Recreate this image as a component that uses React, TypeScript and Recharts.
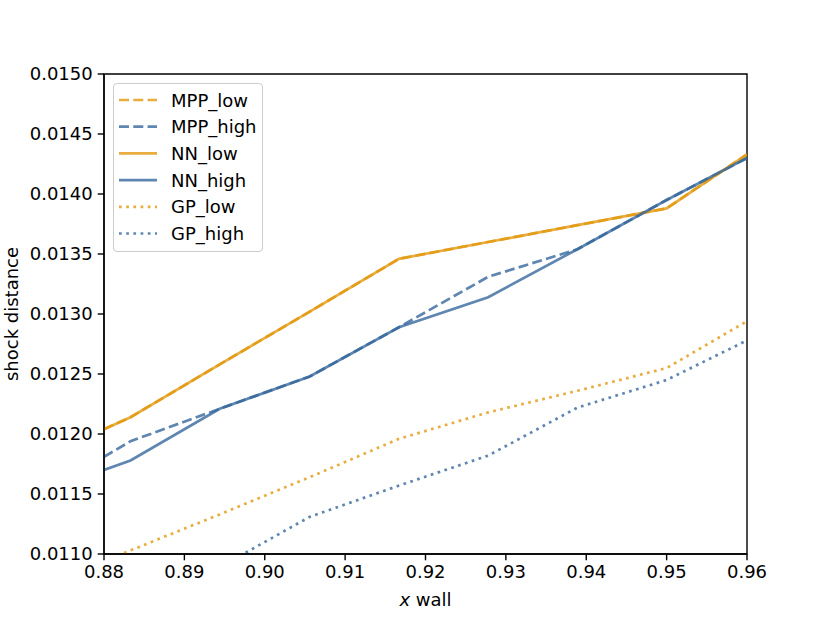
import React from 'react';
import { LineChart, Line, XAxis, YAxis, Legend, ReferenceArea } from 'recharts';

const xWall = [0.88, 0.8833, 0.8944, 0.9056, 0.9167, 0.9278, 0.9389, 0.95, 0.96];
const mppLow = [0.01204, 0.01214, 0.01258, 0.01302, 0.01346, 0.0136, 0.01374, 0.01388, 0.01433];
const mppHigh = [0.01181, 0.01194, 0.01221, 0.01248, 0.01289, 0.01331, 0.01354, 0.01395, 0.0143];
const nnLow = [0.01204, 0.01214, 0.01258, 0.01302, 0.01346, 0.0136, 0.01374, 0.01388, 0.01433];
const nnHigh = [0.0117, 0.01178, 0.01221, 0.01248, 0.01289, 0.01314, 0.01354, 0.01395, 0.0143];
const gpLow = [0.01094, 0.01103, 0.01133, 0.01164, 0.01196, 0.01218, 0.01236, 0.01255, 0.01294];
const gpHigh = [0.0106, 0.01062, 0.01089, 0.01131, 0.01157, 0.01182, 0.01222, 0.01245, 0.01278];

const xTicks = [0.88, 0.89, 0.9, 0.91, 0.92, 0.93, 0.94, 0.95, 0.96];
const yTicks = [0.011, 0.0115, 0.012, 0.0125, 0.013, 0.0135, 0.014, 0.0145, 0.015];

const ORANGE = '#e2980e';
const BLUE = '#36689c';
const FONT = 'DejaVu Sans';

const data = xWall.map((x, i) => ({
  x,
  MPP_low: mppLow[i],
  MPP_high: mppHigh[i],
  NN_low: nnLow[i],
  NN_high: nnHigh[i],
  GP_low: gpLow[i],
  GP_high: gpHigh[i],
}));

const series = [
  { key: 'MPP_low', color: ORANGE, dash: '10 4.3' },
  { key: 'MPP_high', color: BLUE, dash: '10 4.3' },
  { key: 'NN_low', color: ORANGE, dash: undefined },
  { key: 'NN_high', color: BLUE, dash: undefined },
  { key: 'GP_low', color: ORANGE, dash: '2.7 4.5' },
  { key: 'GP_high', color: BLUE, dash: '2.7 4.5' },
];

function LegendBox() {
  return (
    <div
      style={{
        width: 150,
        height: 169,
        boxSizing: 'border-box',
        border: '1px solid #cccccc',
        borderRadius: 4,
        background: 'rgba(255,255,255,0.8)',
      }}
    >
      <svg width={148} height={167}>
        {series.map((s, i) => {
          const y = 16 + i * 26.7;
          return (
            <g key={s.key}>
              <line
                x1={5}
                x2={43}
                y1={y}
                y2={y}
                stroke={s.color}
                strokeOpacity={0.8}
                strokeWidth={2.7}
                strokeDasharray={s.dash}
              />
              <text x={57} y={y + 6.5} fontSize={18} fontFamily={FONT} fill="#000">
                {s.key}
              </text>
            </g>
          );
        })}
      </svg>
    </div>
  );
}

export default function App() {
  return (
    <div style={{ position: 'absolute', left: 0, top: 0 }}>
      <LineChart
        width={830}
        height={623}
        data={data}
        margin={{ top: 74, right: 83, bottom: 29, left: 34 }}
      >
        <XAxis
          dataKey="x"
          type="number"
          domain={[0.88, 0.96]}
          ticks={xTicks}
          allowDataOverflow
          tickFormatter={(v: number) => v.toFixed(2)}
          tick={{ fontSize: 18, fontFamily: FONT, fill: '#000' }}
          tickLine={{ stroke: '#000', strokeWidth: 1.4 }}
          axisLine={{ stroke: '#000', strokeWidth: 1.4 }}
          tickSize={6.3}
          tickMargin={5}
          height={40}
          label={(props: any) => {
            const vb = props.viewBox;
            return (
              <text
                x={vb.x + vb.width / 2}
                y={606}
                textAnchor="middle"
                fontSize={18}
                fontFamily={FONT}
                fill="#000"
              >
                <tspan fontStyle="italic">x</tspan>
                <tspan> wall</tspan>
              </text>
            );
          }}
        />
        <YAxis
          type="number"
          domain={[0.011, 0.015]}
          ticks={yTicks}
          allowDataOverflow
          tickFormatter={(v: number) => v.toFixed(4)}
          tick={{ fontSize: 18, fontFamily: FONT, fill: '#000' }}
          tickLine={{ stroke: '#000', strokeWidth: 1.4 }}
          axisLine={{ stroke: '#000', strokeWidth: 1.4 }}
          tickSize={6.3}
          tickMargin={5}
          width={70}
          label={() => (
            <text
              x={18}
              y={314}
              transform="rotate(-90 18 314)"
              textAnchor="middle"
              fontSize={18}
              fontFamily={FONT}
              fill="#000"
            >
              shock distance
            </text>
          )}
        />
        <ReferenceArea
          x1={0.88}
          x2={0.96}
          y1={0.011}
          y2={0.015}
          fill="none"
          stroke="#000"
          strokeWidth={1.4}
          ifOverflow="visible"
        />
        {series.map((s) => (
          <Line
            key={s.key}
            dataKey={s.key}
            type="linear"
            stroke={s.color}
            strokeOpacity={0.8}
            strokeWidth={2.7}
            strokeDasharray={s.dash}
            dot={false}
            activeDot={false}
            isAnimationActive={false}
          />
        ))}
        <Legend
          layout="horizontal"
          verticalAlign="middle"
          align="center"
          content={() => <LegendBox />}
          wrapperStyle={{ position: 'absolute', left: 113, top: 83, width: 150, height: 169 }}
        />
      </LineChart>
    </div>
  );
}
